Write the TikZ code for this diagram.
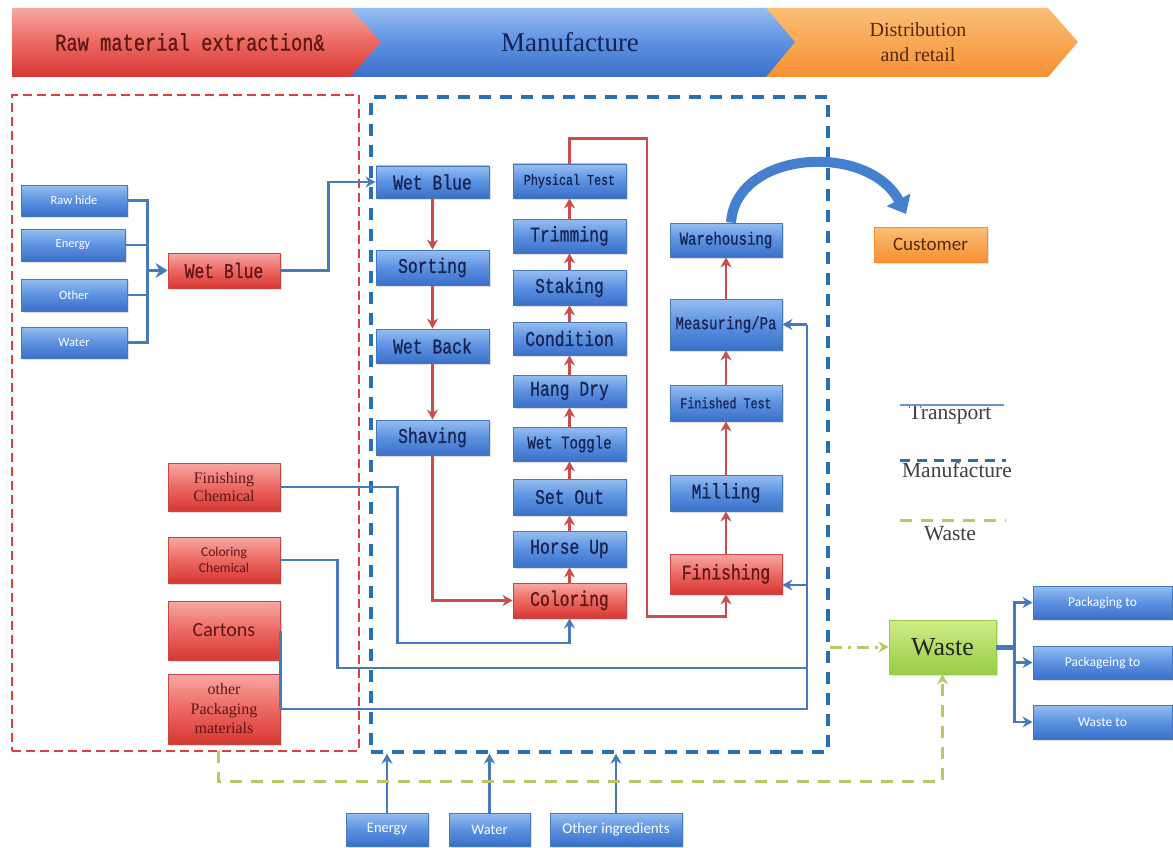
\documentclass[tikz,border=0pt]{standalone}
\usepackage{fontspec}
\setmainfont{Liberation Serif}
\newfontfamily\boxmono{Liberation Mono}[FakeStretch=0.78,FakeBold=0.8]
\newfontfamily\cfont{Carlito}
\usetikzlibrary{arrows.meta,shadows}

\definecolor{btop}{RGB}{150,190,240}
\definecolor{bmid}{RGB}{92,145,225}
\definecolor{bbot}{RGB}{58,112,200}
\definecolor{bbord}{RGB}{70,120,190}
\definecolor{rtop}{RGB}{248,168,162}
\definecolor{rmid}{RGB}{236,104,98}
\definecolor{rbot}{RGB}{215,55,50}
\definecolor{rbord}{RGB}{200,70,70}
\definecolor{otop}{RGB}{252,190,118}
\definecolor{obot}{RGB}{245,145,50}
\definecolor{gtop}{RGB}{208,236,135}
\definecolor{gbot}{RGB}{150,205,70}
\definecolor{navy}{RGB}{22,36,84}
\definecolor{dred}{RGB}{95,22,22}
\definecolor{dbrown}{RGB}{90,40,12}
\definecolor{tline}{RGB}{70,122,186}
\definecolor{rline}{RGB}{202,76,76}
\definecolor{wline}{RGB}{188,198,100}
\definecolor{rdash}{RGB}{222,62,62}
\definecolor{mdash}{RGB}{40,112,182}
\definecolor{carc}{RGB}{68,128,205}

\begin{document}
\begin{tikzpicture}[x=1pt,y=-1pt,
  base/.style={inner sep=0pt, line width=0.8pt, align=center,
    drop shadow={opacity=0.25, shadow xshift=1.5pt, shadow yshift=-1.5pt}},
  bluebox/.style={base, draw=bbord, top color=btop, bottom color=bbot, middle color=bmid,
    text=navy, font=\boxmono\fontsize{21}{24}\selectfont},
  inbox/.style={base, draw=bbord, top color=btop, bottom color=bbot, middle color=bmid,
    text=white, font=\cfont\fontsize{12.5}{14}\selectfont},
  redbox/.style={base, draw=rbord, top color=rtop, bottom color=rbot, middle color=rmid,
    text=dred, font=\boxmono\fontsize{21}{24}\selectfont},
  orbox/.style={base, draw=obot, top color=otop, bottom color=obot,
    text=dbrown, font=\cfont\fontsize{19}{22}\selectfont},
  grbox/.style={base, draw=gbot, top color=gtop, bottom color=gbot,
    text=black!85, font=\fontsize{26}{30}\selectfont},
  tl/.style={draw=tline, line width=2.3pt},
  rl/.style={draw=rline, line width=2.3pt},
  tip/.style={-{Stealth[length=10pt,width=11pt]}},
  legtext/.style={inner sep=0pt, text=black!75, font=\fontsize{21.5}{23}\selectfont}
]
\useasboundingbox (0,0) rectangle (1173,848);
\fill[white] (0,0) rectangle (1173,848);

% ---------- stage banner ----------
\shade[top color=otop, bottom color=obot] (760,8) -- (1048,8) -- (1078,42) -- (1048,77) -- (760,77) -- cycle;
\shade[top color=btop, bottom color=bbot, middle color=bmid] (340,8) -- (766,8) -- (795,42) -- (766,77) -- (340,77) -- cycle;
\shade[top color=rtop, bottom color=rbot, middle color=rmid] (12,8) -- (350,8) -- (381,42) -- (350,77) -- (12,77) -- cycle;
\node[text=dred, font=\boxmono\fontsize{24}{26}\selectfont] (stRaw) at (190,42) {Raw material extraction\&};
\node[text=navy, font=\fontsize{27}{30}\selectfont] (stMan) at (570,42) {Manufacture};
\node[text=dbrown, align=center, font=\fontsize{20}{25}\selectfont] (stDis) at (918,42) {Distribution\\and retail};

% ---------- stage frames ----------
\node[draw=rdash, line width=2.4pt, dash pattern=on 9pt off 5pt, minimum width=347, minimum height=656, inner sep=0pt] (rawbox) at (185.5,423) {};
\node[draw=mdash, line width=3.4pt, dash pattern=on 12pt off 9pt, minimum width=457, minimum height=655, inner sep=0pt] (manbox) at (599.5,424.5) {};

% ---------- raw material inputs ----------
\node[inbox, minimum width=106, minimum height=31] (rh) at (74,200.5) {Raw hide};
\node[inbox, minimum width=104, minimum height=32] (en) at (73,245) {Energy};
\node[inbox, minimum width=106, minimum height=32] (ot) at (74,295) {Other};
\node[inbox, minimum width=106, minimum height=31] (wa) at (74,342.5) {Water};
\node[redbox, minimum width=112, minimum height=35] (wbr) at (224,270.5) {Wet Blue};

% ---------- tannery column 1 ----------
\node[bluebox, minimum width=113, minimum height=32] (wb) at (432.5,182) {Wet Blue};
\node[bluebox, minimum width=113, minimum height=35] (sort) at (432.5,267.5) {Sorting};
\node[bluebox, minimum width=113, minimum height=34] (wback) at (432.5,346) {Wet Back};
\node[bluebox, minimum width=113, minimum height=35] (shav) at (432.5,437.5) {Shaving};

% ---------- tannery column 2 ----------
\node[bluebox, minimum width=113, minimum height=34, font=\boxmono\fontsize{15}{17}\selectfont] (phys) at (569.5,181) {Physical Test};
\node[bluebox, minimum width=113, minimum height=34] (trim) at (569.5,236) {Trimming};
\node[bluebox, minimum width=113, minimum height=35] (stak) at (569.5,287.5) {Staking};
\node[bluebox, minimum width=113, minimum height=33] (cond) at (569.5,338.5) {Condition};
\node[bluebox, minimum width=113, minimum height=32] (hang) at (569.5,391) {Hang Dry};
\node[bluebox, minimum width=113, minimum height=34, font=\boxmono\fontsize{18}{20}\selectfont] (wtog) at (569.5,444) {Wet Toggle};
\node[bluebox, minimum width=113, minimum height=36] (setout) at (569.5,497) {Set Out};
\node[bluebox, minimum width=113, minimum height=36] (horse) at (569.5,549) {Horse Up};
\node[redbox, minimum width=113, minimum height=35] (col) at (569.5,600.5) {Coloring};

% ---------- tannery column 3 ----------
\node[bluebox, minimum width=112, minimum height=34, font=\boxmono\fontsize{18}{20}\selectfont] (ware) at (726,240) {Warehousing};
\node[bluebox, minimum width=112, minimum height=51, font=\boxmono\fontsize{18}{20}\selectfont] (meas) at (726,324.5) {Measuring/Pa};
\node[bluebox, minimum width=112, minimum height=36, font=\boxmono\fontsize{15}{17}\selectfont] (ftest) at (726,403) {Finished Test};
\node[bluebox, minimum width=112, minimum height=36] (mill) at (726,493) {Milling};
\node[redbox, minimum width=112, minimum height=40] (fin) at (726,574) {Finishing};

\node[orbox, minimum width=113, minimum height=35] (cust) at (930.5,244.5) {Customer};

% ---------- chemical and packaging inputs ----------
\node[redbox, minimum width=112, minimum height=48, font=\fontsize{16}{18}\selectfont] (fchem) at (224,487) {Finishing\\Chemical};
\node[redbox, minimum width=112, minimum height=46, font=\cfont\fontsize{13.5}{16}\selectfont] (cchem) at (224,560) {Coloring\\Chemical};
\node[redbox, minimum width=112, minimum height=59, font=\cfont\fontsize{20}{22}\selectfont] (cart) at (224,630.5) {Cartons};
\node[redbox, minimum width=112, minimum height=70, font=\fontsize{16}{19.5}\selectfont] (opack) at (224,709) {other\\Packaging\\materials};

% ---------- waste ----------
\node[grbox, minimum width=107, minimum height=54] (waste) at (942.5,647) {Waste};
\node[inbox, minimum width=139, minimum height=33, font=\cfont\fontsize{13.5}{15}\selectfont] (t1) at (1102.5,602.5) {Packaging to};
\node[inbox, minimum width=139, minimum height=33, font=\cfont\fontsize{13.5}{15}\selectfont] (t2) at (1102.5,662.5) {Packageing to};
\node[inbox, minimum width=139, minimum height=34, font=\cfont\fontsize{13.5}{15}\selectfont] (t3) at (1102.5,722) {Waste to};

% ---------- utilities ----------
\node[inbox, minimum width=82, minimum height=33, font=\cfont\fontsize{14.5}{16}\selectfont] (en2) at (387,829.5) {Energy};
\node[inbox, minimum width=81, minimum height=33, font=\cfont\fontsize{14.5}{16}\selectfont] (wa2) at (489.5,829.5) {Water};
\node[inbox, minimum width=132, minimum height=33, font=\cfont\fontsize{15}{16}\selectfont] (oi) at (616,829.5) {Other ingredients};

% ---------- legend ----------
\node[legtext] (lgT) at (950,415) {Transport};
\node[legtext] (lgM) at (957,470) {Manufacture};
\node[legtext] (lgW) at (950,534) {Waste};
\draw[draw=tline!80, line width=2.6pt] (900,405) -- (1004,405);
\draw[draw=mdash, line width=3pt, dash pattern=on 10pt off 7pt] (900,460) -- (1006,460);
\draw[draw=wline, line width=3pt, dash pattern=on 12pt off 9pt] (900,520) -- (1006,520);

% ---------- transport: raw materials ----------
\draw[tl] (rh.east) -- ++(20,0) coordinate (bus) |- (wa.east);
\draw[tl] (en.east) -- (en.east -| bus);
\draw[tl] (ot.east) -- (ot.east -| bus);
\draw[tl, line width=3pt, -{Stealth[length=12pt,width=15pt]}] (wbr.west -| bus) -- (wbr.west);
\draw[tl, tip] (wbr.east) -- ++(48,0) |- (wb.west);

% ---------- process flow ----------
\draw[rl, tip] (wb.south) -- (sort.north);
\draw[rl, tip] (sort.south) -- (wback.north);
\draw[rl, tip] (wback.south) -- (shav.north);
\draw[rl, tip] (shav.south) |- (col.west);
\draw[rl, tip] (col.north) -- (horse.south);
\draw[rl, tip] (horse.north) -- (setout.south);
\draw[rl, tip] (setout.north) -- (wtog.south);
\draw[rl, tip] (wtog.north) -- (hang.south);
\draw[rl, tip] (hang.north) -- (cond.south);
\draw[rl, tip] (cond.north) -- (stak.south);
\draw[rl, tip] (stak.north) -- (trim.south);
\draw[rl, tip] (trim.north) -- (phys.south);
\draw[rl, tip] (phys.north) -- ++(0,-25) -- ++(77.5,0) -- ++(0,478) -| (fin.south);
\draw[rl, tip] (fin.north) -- (mill.south);
\draw[rl, tip] (mill.north) -- (ftest.south);
\draw[rl, tip] (ftest.north) -- (meas.south);
\draw[rl, tip] (meas.north) -- (ware.north |- ware.south);

% ---------- transport: chemicals and packaging ----------
\draw[tl, tip] (fchem.east) -- ++(117,0) -- ++(0,156) -| (col.south);
\coordinate (vbB) at (807,709);
\coordinate (vbM) at (807,668);
\coordinate (vbT) at (807,324.5);
\draw[tl] (cchem.east) -- ++(57,0) |- (vbM);
\draw[tl] (cart.east) -- (cart.east |- opack.east);
\draw[tl] (opack.east) -- (vbB) -- (vbT);
\draw[tl, tip] (vbT) -- (meas.east);
\draw[tl, tip] ([yshift=-11pt]fin.east -| vbT) -- ([yshift=-11pt]fin.east);

% ---------- utilities into manufacture ----------
\draw[tl, tip] (en2.north) -- (en2.north |- manbox.south);
\draw[tl, tip] (wa2.north) -- (wa2.north |- manbox.south);
\draw[tl, tip] (oi.north) -- (oi.north |- manbox.south);

% ---------- distribution ----------
\coordinate (arcEnd) at (906,214);
\draw[draw=carc, line width=10pt, -{Triangle[length=16pt,width=26pt]}]
  ([xshift=5pt]ware.north) .. controls (736,150) and (868,142) .. (arcEnd);

% ---------- waste ----------
\draw[draw=wline, line width=3pt, dash pattern=on 12pt off 6pt on 3pt off 6pt, tip]
  (manbox.east |- waste.west) -- (waste.west);
\coordinate (wstart) at (218,751);
\draw[draw=wline, line width=3pt, dash pattern=on 12pt off 9pt, tip]
  (wstart) -- ++(0,30) -| (waste.south);
\draw[tl, line width=5pt] (waste.east) -- ++(18,0) coordinate (wbus);
\draw[tl, tip] (wbus) |- (t1.west);
\draw[tl, tip] (wbus) -- (wbus |- t2.west) -- (t2.west);
\draw[tl, tip] (wbus) |- (t3.west);
\end{tikzpicture}
\end{document}
